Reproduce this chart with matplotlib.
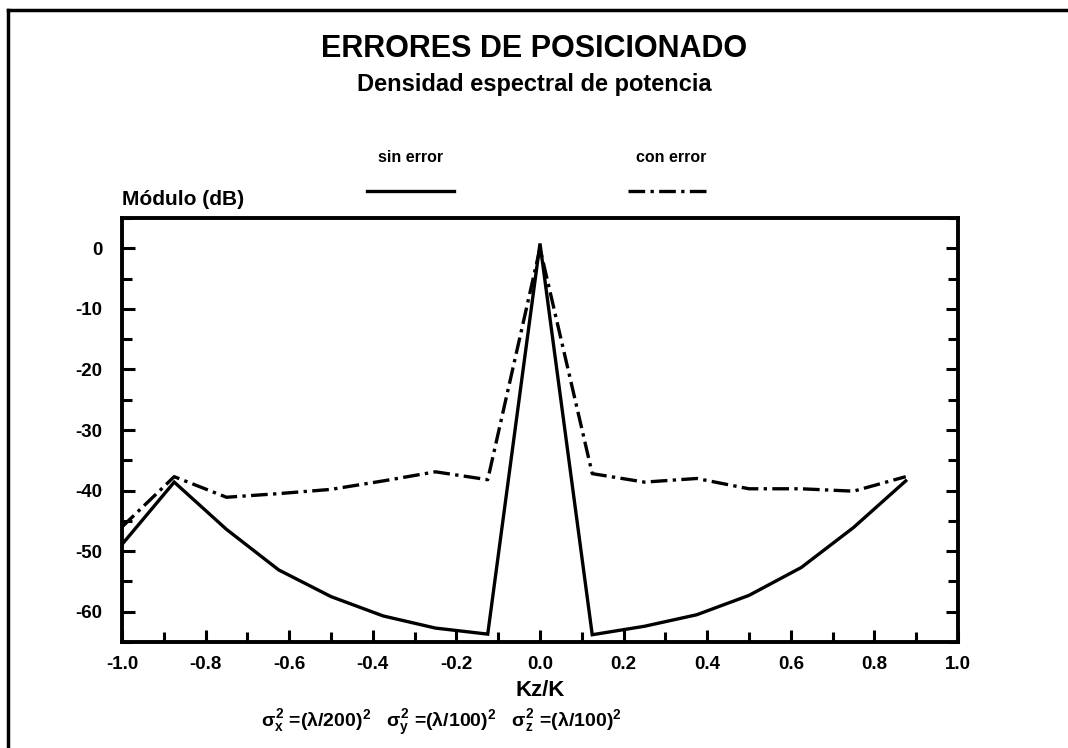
import matplotlib.pyplot as plt
from matplotlib.ticker import MultipleLocator, FormatStrFormatter
from matplotlib.lines import Line2D

plt.rcParams['font.family'] = ['Liberation Sans', 'DejaVu Sans']
plt.rcParams['font.weight'] = 'bold'
plt.rcParams['axes.labelweight'] = 'bold'
plt.rcParams['axes.unicode_minus'] = False
plt.rcParams['mathtext.fontset'] = 'custom'
plt.rcParams['mathtext.rm'] = 'Liberation Sans:bold'
plt.rcParams['mathtext.it'] = 'Liberation Sans:bold'
plt.rcParams['mathtext.bf'] = 'Liberation Sans:bold'

# Kz/K sample points
kz_sin = [-1.0, -0.875, -0.75, -0.625, -0.5, -0.375, -0.25, -0.125, 0.0,
          0.125, 0.25, 0.375, 0.5, 0.625, 0.75, 0.875]
mod_sin = [-48.9, -38.6, -46.4, -53.1, -57.5, -60.7, -62.7, -63.7, 0.8,
           -63.8, -62.4, -60.5, -57.3, -52.7, -46.1, -38.4]

kz_con = kz_sin
mod_con = [-46.0, -37.7, -41.1, -40.5, -39.8, -38.4, -36.9, -38.2, 0.0,
           -37.2, -38.6, -38.0, -39.7, -39.7, -40.1, -37.7]

x_ticks = [-1.0, -0.8, -0.6, -0.4, -0.2, 0.0, 0.2, 0.4, 0.6, 0.8, 1.0]
y_ticks = [0, -10, -20, -30, -40, -50, -60]

fig = plt.figure(figsize=(10.68, 7.48), dpi=100)
ax = fig.add_axes([0.1142, 0.1417, 0.7828, 0.5668])

dashdot = (0, (5, 1.6, 1, 1.6))
ax.plot(kz_sin, mod_sin, color='black', lw=2.4, solid_joinstyle='miter')
ax.plot(kz_con, mod_con, color='black', lw=2.4, linestyle=dashdot)

ax.set_xlim(-1.0, 1.0)
ax.set_ylim(-65, 5)
ax.set_xticks(x_ticks)
ax.set_yticks(y_ticks)
ax.xaxis.set_minor_locator(MultipleLocator(0.1))
ax.yaxis.set_minor_locator(MultipleLocator(5))
ax.xaxis.set_major_formatter(FormatStrFormatter('%.1f'))
ax.tick_params(which='both', direction='in', width=2.2, right=True, top=False)
ax.tick_params(which='major', length=9, labelsize=13.5, pad=10)
ax.tick_params(which='minor', length=7)
ax.tick_params(axis='y', which='major', pad=14)
for sp in ax.spines.values():
    sp.set_linewidth(2.8)

ax.set_xlabel('Kz/K', fontsize=16, labelpad=5)
ax.text(0.0, 1.022, 'Módulo (dB)', transform=ax.transAxes, fontsize=15,
        fontweight='heavy', ha='left', va='bottom')

fig.text(0.5, 0.924, 'ERRORES DE POSICIONADO', ha='center', fontsize=22)
fig.text(0.5, 0.879, 'Densidad espectral de potencia', ha='center', fontsize=17)

# legend drawn as labels over short sample lines
fig.text(0.384, 0.783, 'sin error', ha='center', fontsize=11.5)
fig.text(0.628, 0.783, 'con error', ha='center', fontsize=11.5)
fig.add_artist(Line2D([0.344, 0.425], [0.745, 0.745], color='black', lw=2.4))
fig.add_artist(Line2D([0.588, 0.663], [0.745, 0.745], color='black', lw=2.4,
                      linestyle=dashdot))

fig.text(0.413, 0.028,
         r'$\sigma_x^2$ =(λ/200)$^2$   $\sigma_y^2$ =(λ/100)$^2$   $\sigma_z^2$ =(λ/100)$^2$',
         ha='center', fontsize=14)

# page frame (left and top edges)
fig.add_artist(Line2D([0.0075, 0.0075], [0.0, 0.987], color='black', lw=2.5))
fig.add_artist(Line2D([0.0075, 1.0], [0.987, 0.987], color='black', lw=2.5))

plt.savefig('out.png', dpi=100)
